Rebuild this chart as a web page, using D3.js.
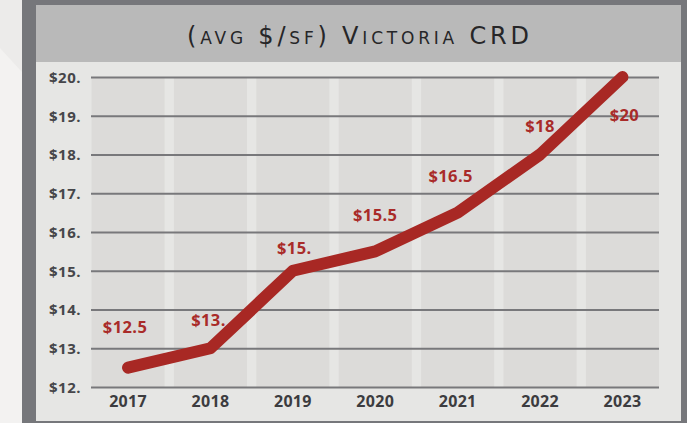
<!DOCTYPE html>
<html>
<head>
<meta charset="utf-8">
<script src="https://cdn.jsdelivr.net/npm/d3@7"></script>
<style>
  html, body { margin: 0; padding: 0; background: #efeeed; }
  svg { display: block; }
</style>
</head>
<body>
<svg id="chart" width="687" height="423"></svg>
<script>
// ---- data ----
const years = ["2017", "2018", "2019", "2020", "2021", "2022", "2023"];
const prices = [12.5, 13, 15, 15.5, 16.5, 18, 20];
const priceLabels = ["$12.5", "$13.", "$15.", "$15.5", "$16.5", "$18", "$20"];
const yTicks = [12, 13, 14, 15, 16, 17, 18, 19, 20];
const yTickLabels = ["$12.", "$13.", "$14.", "$15.", "$16.", "$17.", "$18.", "$19.", "$20."];
const title = "(avg $/sf) Victoria CRD";

// ---- label nudges (styling, px) ----
const labelNudge = [[-3, -35], [-2, -22], [1.5, -17], [0, -30], [-7, -31], [0, -23], [2, 44]];

const svg = d3.select("#chart");
const W = 687, H = 423;

// page background with soft diagonal
svg.append("rect").attr("width", W).attr("height", H).attr("fill", "#ecebea");
svg.append("path").attr("d", "M0,48 L22,72 L22,423 L0,423 Z").attr("fill", "#f3f2f1");

// frame
svg.append("rect").attr("x", 22).attr("y", 0).attr("width", W - 22).attr("height", H).attr("fill", "#76777b");
svg.append("rect").attr("x", 36).attr("y", 5).attr("width", 645).attr("height", 57).attr("fill", "#b9b9b9");
svg.append("rect").attr("x", 36).attr("y", 62).attr("width", 645).attr("height", 359).attr("fill", "#e6e6e4");

// title
svg.append("text")
  .attr("x", 358).attr("y", 44)
  .attr("text-anchor", "middle")
  .attr("font-family", "'DejaVu Sans', sans-serif")
  .attr("font-size", 24)
  .attr("fill", "#262628")
  .style("font-variant", "small-caps")
  .attr("textLength", 342)
  .attr("lengthAdjust", "spacing")
  .text(title);

// scales
const x = d3.scaleBand().domain(years).range([91.5, 659]).paddingInner(0.113).paddingOuter(0);
const y = d3.scaleLinear().domain([12, 20]).range([387, 77]);

// column bands
svg.append("g").selectAll("rect").data(years).join("rect")
  .attr("x", d => x(d)).attr("width", x.bandwidth())
  .attr("y", y(20)).attr("height", y(12) - y(20))
  .attr("fill", "#dcdbd9");

// gridlines via axis
const gAxis = svg.append("g").attr("transform", "translate(659,0)")
  .call(d3.axisLeft(y).tickValues(yTicks).tickSize(659 - 91)
    .tickFormat((d, i) => yTickLabels[i]));
gAxis.select(".domain").remove();
gAxis.selectAll(".tick line").attr("stroke", "#78787b").attr("stroke-width", 2.2);
gAxis.selectAll(".tick text")
  .attr("x", 49 - 659).attr("text-anchor", "start").attr("dy", "0.36em")
  .attr("font-family", "'Open Sans', sans-serif").attr("font-weight", "bold")
  .attr("font-size", 15).attr("letter-spacing", 0.5).attr("fill", "#46464a");

// x axis
const xAxis = svg.append("g").attr("transform", `translate(0,${y(12)})`)
  .call(d3.axisBottom(x).tickSize(0).tickPadding(9));
xAxis.select(".domain").remove();
xAxis.selectAll(".tick text")
  .attr("font-family", "'Open Sans', sans-serif").attr("font-weight", "bold")
  .attr("font-size", 16).attr("letter-spacing", 0.3).attr("fill", "#3c3c3f");

// line
const cx = (d, i) => x(years[i]) + x.bandwidth() / 2;
const line = d3.line().x((d, i) => cx(d, i)).y(d => y(d));
svg.append("path").datum(prices)
  .attr("d", line)
  .attr("fill", "none")
  .attr("stroke", "#a82824")
  .attr("stroke-width", 12)
  .attr("stroke-linecap", "round")
  .attr("stroke-linejoin", "round");

// value labels
svg.append("g").selectAll("text").data(prices).join("text")
  .attr("x", (d, i) => cx(d, i) + labelNudge[i][0])
  .attr("y", (d, i) => y(d) + labelNudge[i][1])
  .attr("text-anchor", "middle")
  .attr("font-family", "'Open Sans', sans-serif").attr("font-weight", "bold")
  .attr("font-size", 16.5).attr("letter-spacing", 0.4).attr("fill", "#a92b29")
  .text((d, i) => priceLabels[i]);
</script>
</body>
</html>
